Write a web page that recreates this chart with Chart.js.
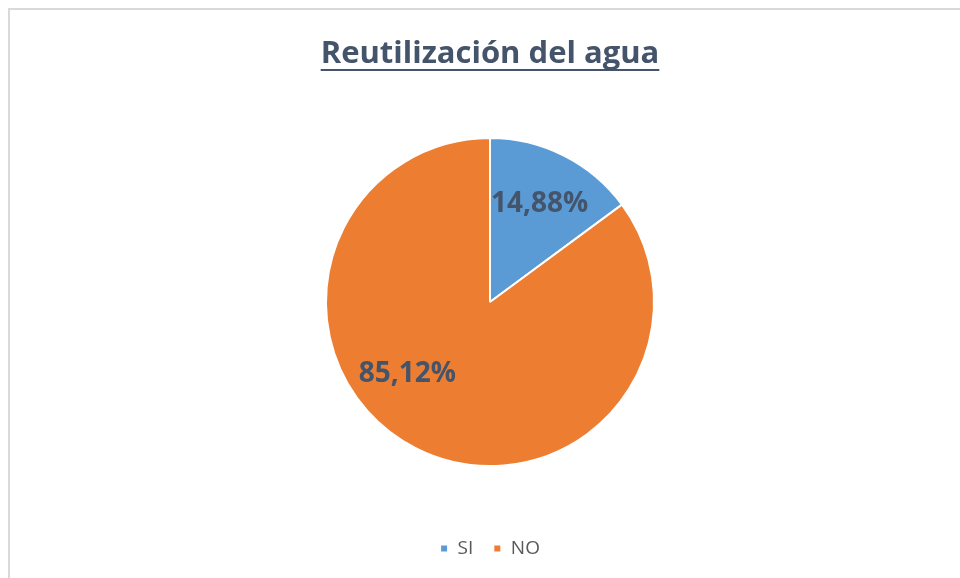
<!DOCTYPE html>
<html>
<head>
<meta charset="utf-8">
<script src="https://cdn.jsdelivr.net/npm/chart.js@4/dist/chart.umd.min.js"></script>
<style>
  html, body { margin: 0; padding: 0; background: #fff; }
  #wrap { position: relative; width: 960px; height: 578px; }
  #frame { position: absolute; left: 8px; top: 8px; right: 0; bottom: 0;
           border-left: 2px solid #d9d9d9; border-top: 2px solid #d9d9d9; }
  canvas { position: absolute; left: 0; top: 0; }
</style>
</head>
<body>
<div id="wrap">
  <div id="frame"></div>
  <canvas id="chart" width="960" height="578"></canvas>
</div>
<script>
// ---- data ----
const chartTitle = 'Reutilización del agua';
const categories = ['SI', 'NO'];
const percents   = [14.88, 85.12];
const colors     = ['#5B9BD5', '#ED7D31'];

const TEXT_DARK  = '#44546A';
const TEXT_MUTED = '#595959';
const FONT       = '"Open Sans", "Noto Sans", sans-serif';

// title with underline (Excel style)
const underlinedTitle = {
  id: 'underlinedTitle',
  afterDraw(chart, args, opts) {
    const ctx = chart.ctx;
    ctx.save();
    ctx.font = `bold ${opts.size}px ${FONT}`;
    ctx.fillStyle = TEXT_DARK;
    ctx.textAlign = 'center';
    ctx.textBaseline = 'alphabetic';
    ctx.fillText(opts.text, opts.x, opts.y);
    const w = ctx.measureText(opts.text).width;
    ctx.fillRect(opts.x - w / 2, opts.y + 6, w, 2);
    ctx.restore();
  }
};

// percentage labels inside slices
const sliceLabels = {
  id: 'sliceLabels',
  afterDatasetsDraw(chart, args, opts) {
    const ctx = chart.ctx;
    const meta = chart.getDatasetMeta(0);
    ctx.save();
    ctx.font = `bold ${opts.size}px ${FONT}`;
    ctx.fillStyle = TEXT_DARK;
    ctx.textAlign = 'center';
    ctx.textBaseline = 'middle';
    meta.data.forEach((arc, i) => {
      const p = arc.getProps(['x', 'y', 'startAngle', 'endAngle', 'outerRadius'], true);
      const mid = (p.startAngle + p.endAngle) / 2 + (opts.angleShift[i] || 0) * Math.PI / 180;
      const r = p.outerRadius * opts.dist;
      const v = chart.data.datasets[0].data[i];
      ctx.fillText(v.toFixed(2).replace('.', ',') + '%', p.x + Math.cos(mid) * r, p.y + Math.sin(mid) * r);
    });
    ctx.restore();
  }
};

new Chart(document.getElementById('chart'), {
  type: 'pie',
  data: {
    labels: categories,
    datasets: [{
      data: percents,
      backgroundColor: colors,
      borderColor: '#ffffff',
      borderWidth: 2,
    }]
  },
  options: {
    responsive: false,
    animation: false,
    radius: 164,
    layout: { padding: { left: 20, right: 0, top: 85, bottom: 10 } },
    plugins: {
      title: { display: false },
      tooltip: { enabled: false },
      legend: {
        position: 'bottom',
        labels: {
          color: TEXT_MUTED,
          font: { family: FONT, size: 19 },
          boxWidth: 8,
          boxHeight: 8,
          padding: 20,
        }
      },
      underlinedTitle: { text: chartTitle, size: 31, x: 490, y: 63 },
      sliceLabels: { size: 28, dist: 0.67, angleShift: [0, 22] },
    }
  },
  plugins: [underlinedTitle, sliceLabels]
});
</script>
</body>
</html>
